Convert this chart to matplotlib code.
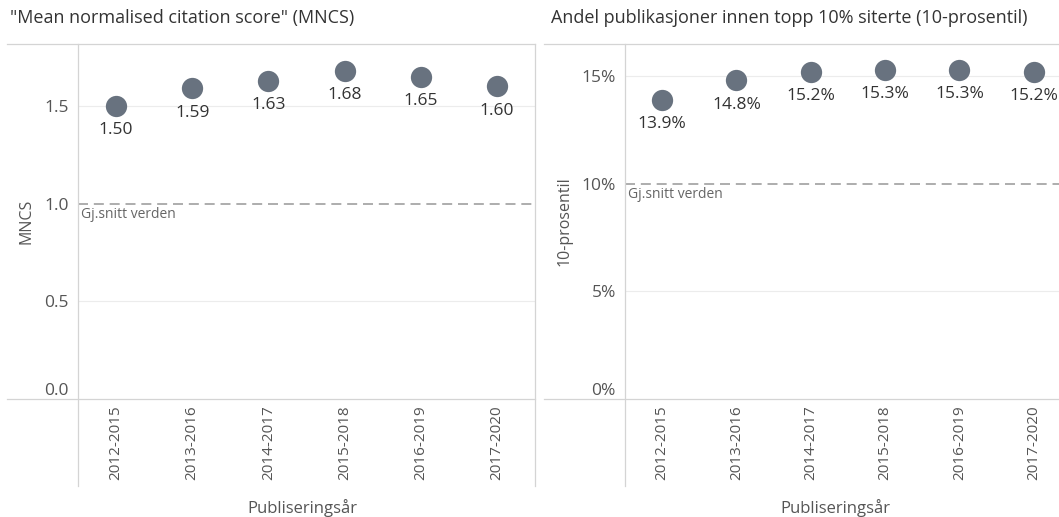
import matplotlib
matplotlib.use('Agg')
import matplotlib.pyplot as plt
from matplotlib.lines import Line2D

plt.rcParams['font.family'] = ['Open Sans', 'DejaVu Sans']

# data
periods = ['2012-2015', '2013-2016', '2014-2017', '2015-2018', '2016-2019', '2017-2020']
mncs = [1.50, 1.59, 1.63, 1.68, 1.65, 1.60]
top10 = [13.9, 14.8, 15.2, 15.3, 15.3, 15.2]
mncs_ticks = [0.0, 0.5, 1.0, 1.5]
top10_ticks = [0, 5, 10, 15]
world_mncs = 1.0
world_top10 = 10

W, H = 1059, 517
dot_col = '#68727f'
border = '#d4d4d4'
grid_col = '#ececec'

fig = plt.figure(figsize=(W / 100, H / 100), dpi=100)


def fx(px):
    return px / W


def fy(py):
    return (H - py) / H


def panel(x0, x1, vals, ticks, tlabels, ymax, ref, title, title_x, ylabel, ylabel_x, fmt, xlab_x):
    ax = fig.add_axes([fx(x0), fy(399), fx(x1) - fx(x0), fy(44) - fy(399)])
    xs = list(range(len(periods)))
    ax.scatter(xs, vals, s=235, color=dot_col, zorder=3, linewidths=0)
    for x, v in zip(xs, vals):
        ax.annotate(fmt(v), (x, v), xytext=(0, -17.5), textcoords='offset points',
                    ha='center', va='center', fontsize=12.5, color='#333333')
    ax.set_xlim(-0.5, 5.5)
    ax.set_ylim(0, ymax)
    for t in ticks:
        if t != 0 and t != ref:
            ax.axhline(t, color=grid_col, lw=0.8, zorder=1)
    ax.axhline(ref, color='#a0a0a0', lw=1.2, ls=(0, (6, 3.5)), zorder=2)
    ax.annotate('Gj.snitt verden', (0, ref), xycoords=('axes fraction', 'data'),
                xytext=(2, -8), textcoords='offset points', ha='left', va='center',
                fontsize=10, color='#666666')
    ax.set_yticks(ticks)
    ax.set_yticklabels(tlabels)
    ax.set_xticks(xs)
    ax.set_xticklabels(periods, rotation=90, va='top', ha='center')
    ax.tick_params(axis='y', length=0, pad=6.5, labelsize=12.5, labelcolor='#555555')
    ax.tick_params(axis='x', length=0, pad=4.5, labelsize=11, labelcolor='#555555')
    ax.get_yticklabels()[0].set_va('bottom')
    for s in ax.spines.values():
        s.set_visible(False)
    fig.text(fx(title_x), fy(18), title, ha='left', va='center', fontsize=13, color='#333333')
    fig.text(fx(ylabel_x), fy(221), ylabel, rotation=90, ha='center', va='center',
             fontsize=11.5, color='#555555')
    fig.text(fx(xlab_x), fy(508), 'Publiseringsår', ha='center', va='center',
             fontsize=12, color='#555555')
    return ax


panel(78, 535, mncs, mncs_ticks, ['0.0', '0.5', '1.0', '1.5'], 1.817, world_mncs,
      '"Mean normalised citation score" (MNCS)', 10, 'MNCS', 27,
      lambda v: f'{v:.2f}', 302)
panel(625, 1071, top10, top10_ticks, [f'{t}%' for t in top10_ticks], 16.49, world_top10,
      'Andel publikasjoner innen topp 10% siterte (10-prosentil)', 551, '10-prosentil', 565,
      lambda v: f'{v:.1f}%', 835)

# panel frame lines
segs = [
    ((7, 535), (44, 44)), ((7, 535), (399, 399)),
    ((544, 1059), (44, 44)), ((544, 1059), (399, 399)),
    ((78, 78), (44, 486)), ((535, 535), (44, 486)),
    ((625, 625), (44, 486)),
]
for xs_, ys_ in segs:
    fig.add_artist(Line2D([fx(x) for x in xs_], [fy(y) for y in ys_], color=border, lw=0.9))

fig.savefig('out.png', dpi=100)
